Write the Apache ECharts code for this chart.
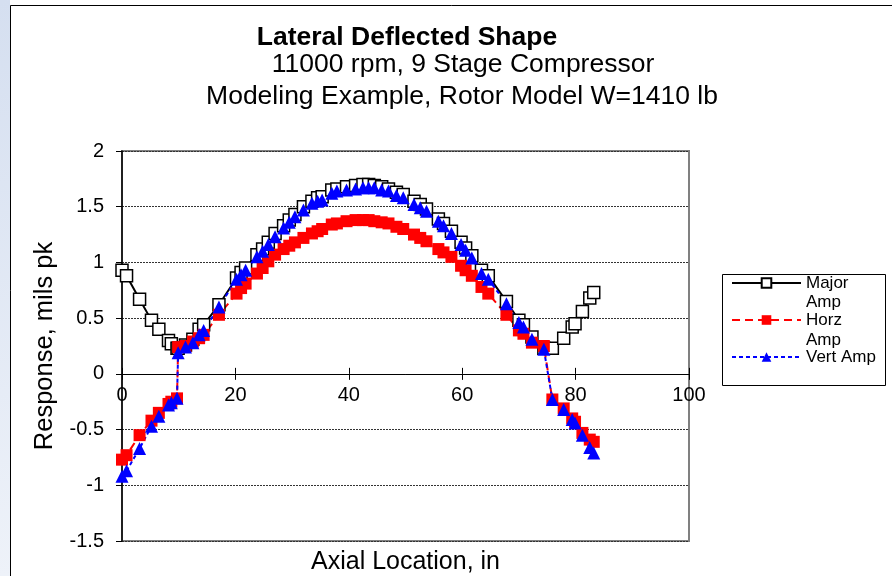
<!DOCTYPE html>
<html>
<head>
<meta charset="utf-8">
<script src="https://cdn.jsdelivr.net/npm/echarts@6/dist/echarts.min.js"></script>
<style>
html,body{margin:0;padding:0;background:#fff;}
#chart{width:892px;height:576px;}
</style>
</head>
<body>
<div id="chart"></div>
<script>
// ---- data ----
const axialLocation = [0,0.8,3.1,5.2,6.5,8.2,8.7,9.7,
  9.9,11.2,12.5,13.6,14.4,17.1,
  20.2,21.0,21.8,23.8,24.8,25.8,27.0,
  28.5,29.5,30.5,32.0,33.5,34.5,35.3,
  37.0,37.9,39.6,41.2,42.5,43.5,44.5,
  45.8,47.0,48.4,49.6,51.5,52.6,53.7,
  55.8,56.7,58.1,59.8,60.6,61.7,63.4,
  64.6,67.8,70.0,70.8,72.3,74.4,
  75.9,77.9,79.4,79.9,81.2,82.5,83.2];
const majorAmp = [0.93,0.88,0.67,0.48,0.40,0.30,0.27,0.23,
  0.23,0.26,0.31,0.40,0.44,0.62,
  0.86,0.91,0.95,1.07,1.12,1.18,1.26,
  1.33,1.38,1.43,1.50,1.55,1.58,1.59,
  1.65,1.66,1.68,1.69,1.70,1.70,1.69,
  1.68,1.66,1.63,1.61,1.55,1.52,1.48,
  1.39,1.35,1.28,1.18,1.13,1.06,0.93,
  0.88,0.65,0.48,0.44,0.33,0.23,
  0.23,0.32,0.42,0.45,0.56,0.68,0.73];
const horzAmp = [-0.77,-0.73,-0.55,-0.42,-0.35,-0.27,-0.25,-0.22,
  0.24,0.25,0.29,0.32,0.35,0.53,
  0.72,0.77,0.81,0.90,0.95,1.01,1.07,
  1.12,1.15,1.18,1.22,1.26,1.28,1.30,
  1.34,1.35,1.37,1.38,1.38,1.38,1.37,
  1.36,1.35,1.32,1.30,1.25,1.22,1.19,
  1.12,1.09,1.05,0.97,0.93,0.88,0.78,
  0.72,0.53,0.39,0.36,0.28,0.25,
  -0.23,-0.31,-0.40,-0.43,-0.53,-0.59,-0.61];
const vertAmp = [-0.92,-0.87,-0.67,-0.47,-0.38,-0.28,-0.26,-0.22,
  0.19,0.24,0.28,0.35,0.39,0.60,
  0.85,0.89,0.93,1.05,1.10,1.16,1.23,
  1.31,1.36,1.41,1.47,1.53,1.55,1.56,
  1.62,1.64,1.65,1.66,1.67,1.67,1.67,
  1.65,1.64,1.60,1.58,1.52,1.49,1.46,
  1.37,1.33,1.26,1.16,1.11,1.04,0.90,
  0.85,0.63,0.46,0.42,0.31,0.22,
  -0.23,-0.32,-0.41,-0.44,-0.55,-0.66,-0.71];
const seriesNames = ['Major Amp', 'Horz Amp', 'Vert Amp'];
const titleLines = ['Lateral Deflected Shape', '11000 rpm, 9 Stage Compressor', 'Modeling Example, Rotor Model W=1410 lb'];
const xAxisTitle = 'Axial Location, in';
const yAxisTitle = 'Response, mils pk';
const yMin = -1.5, yMax = 2, yStep = 0.5;

const FONT = '"Liberation Sans", Arial, Helvetica, sans-serif';
const pairs = (ys) => axialLocation.map((x, i) => [x, ys[i]]);
const xScale = {type: 'value', min: 0, max: 100, interval: 20};

const chart = echarts.init(document.getElementById('chart'), null, {renderer: 'canvas'});
chart.setOption({
  animation: false,
  backgroundColor: '#ffffff',
  textStyle: {fontFamily: FONT},
  graphic: [
    {type: 'rect', z: -10, shape: {x: 0, y: 0, width: 10, height: 576},
      style: {fill: new echarts.graphic.LinearGradient(0, 0, 1, 1, [
        {offset: 0, color: '#d5dff0'}, {offset: 1, color: '#eef2f9'}])}},
    {type: 'polyline', z: -5, shape: {points: [[10.5, 576], [10.5, 5.5], [892, 5.5]]},
      style: {stroke: '#000', lineWidth: 1, fill: null}},
    {type: 'text', x: 407, y: 38, style: {text: titleLines[0], font: 'bold 26.5px ' + FONT, fill: '#000', textAlign: 'center', textVerticalAlign: 'middle'}},
    {type: 'text', x: 463, y: 65, style: {text: titleLines[1], font: '26.5px ' + FONT, fill: '#000', textAlign: 'center', textVerticalAlign: 'middle'}},
    {type: 'text', x: 462, y: 97, style: {text: titleLines[2], font: '26.5px ' + FONT, fill: '#000', textAlign: 'center', textVerticalAlign: 'middle'}},
    {type: 'rect', shape: {x: 722.5, y: 274.5, width: 163, height: 111},
      style: {fill: '#fff', stroke: '#000', lineWidth: 1}, z: 0},
    {type: 'text', x: 806, y: 302, z: 10, style: {text: 'Amp', font: '17px ' + FONT, fill: '#000', textAlign: 'left', textVerticalAlign: 'middle'}},
    {type: 'text', x: 806, y: 340, z: 10, style: {text: 'Amp', font: '17px ' + FONT, fill: '#000', textAlign: 'left', textVerticalAlign: 'middle'}}
  ],
  legend: {
    orient: 'vertical',
    left: 731, top: 274,
    padding: 0,
    itemGap: 19,
    itemWidth: 69, itemHeight: 12,
    z: 5,
    data: seriesNames,
    formatter: (name) => name === 'Vert Amp' ? name : name.split(' ')[0],
    textStyle: {fontSize: 17, lineHeight: 18, color: '#000', fontFamily: FONT}
  },
  grid: {left: 122, top: 151, right: 203, bottom: 35, show: true,
    outerBoundsMode: 'none', containLabel: false,
    borderColor: '#808080', borderWidth: 2, backgroundColor: 'transparent'},
  xAxis: [Object.assign({}, xScale, {
    position: 'bottom',
    name: xAxisTitle, nameLocation: 'middle', nameGap: 176,
    nameTextStyle: {fontSize: 25, color: '#000', fontFamily: FONT},
    axisLine: {onZero: false, lineStyle: {color: '#000', width: 1}},
    axisTick: {show: true, length: 6, lineStyle: {color: '#000'}},
    axisLabel: {fontSize: 20, color: '#000', margin: 12, fontFamily: FONT},
    splitLine: {show: false}
  }), Object.assign({}, xScale, {
    position: 'top',
    axisLine: {show: false, onZero: false},
    axisTick: {show: true, length: 6, lineStyle: {color: '#000'}},
    axisLabel: {show: false},
    splitLine: {show: false}
  })],
  yAxis: {
    type: 'value', min: yMin, max: yMax, interval: yStep,
    name: yAxisTitle, nameLocation: 'middle', nameGap: 64,
    nameTextStyle: {fontSize: 25.5, color: '#000', fontFamily: FONT},
    axisLine: {show: true, onZero: false, lineStyle: {color: '#000', width: 1.5}},
    axisTick: {show: true, length: 6, lineStyle: {color: '#000'}},
    axisLabel: {fontSize: 20, color: '#000', margin: 18, fontFamily: FONT},
    splitLine: {show: true, lineStyle: {color: '#333', width: 1, type: [2, 1]}}
  },
  series: [{
    name: seriesNames[0], type: 'line', xAxisIndex: 0,
    data: pairs(majorAmp),
    symbol: 'rect', symbolSize: 12,
    itemStyle: {color: '#ffffff', borderColor: '#000', borderWidth: 1.5},
    lineStyle: {color: '#000', width: 2}
  }, {
    name: seriesNames[1], type: 'line', xAxisIndex: 0,
    data: pairs(horzAmp),
    symbol: 'rect', symbolSize: 12,
    itemStyle: {color: '#ff0000'},
    lineStyle: {color: '#ff0000', width: 2, type: [8, 5]}
  }, {
    name: seriesNames[2], type: 'line', xAxisIndex: 0,
    data: pairs(vertAmp),
    symbol: 'triangle', symbolSize: 13,
    itemStyle: {color: '#0000ff'},
    lineStyle: {color: '#0000ff', width: 2, type: [4, 3]}
  }]
});

// Place the x axes on the y = 0 line, using the library's own y scale.
const yZero = chart.convertToPixel({yAxisIndex: 0}, 0);
const yBottom = chart.convertToPixel({yAxisIndex: 0}, yMin);
const yTop = chart.convertToPixel({yAxisIndex: 0}, yMax);
chart.setOption({xAxis: [{offset: -(yBottom - yZero)}, {offset: -(yZero - yTop)}]});
</script>
</body>
</html>
